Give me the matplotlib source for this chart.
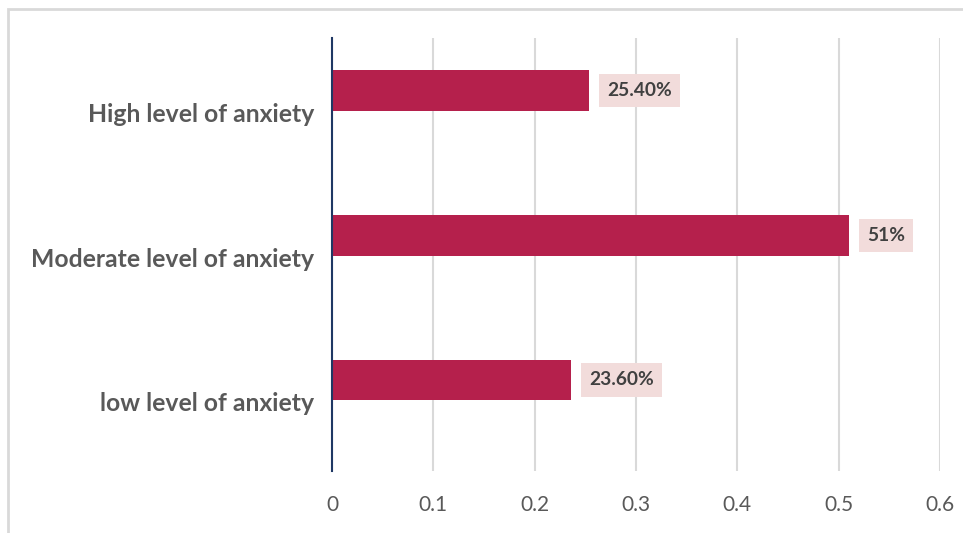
import matplotlib.pyplot as plt
import matplotlib.transforms as mtransforms
from matplotlib.patches import Rectangle

plt.rcParams['font.family'] = ['Lato', 'DejaVu Sans']

# Data (bottom to top)
categories = ['low level of anxiety', 'Moderate level of anxiety', 'High level of anxiety']
values = [0.236, 0.51, 0.254]
value_labels = ['23.60%', '51%', '25.40%']
xticks = [0, 0.1, 0.2, 0.3, 0.4, 0.5, 0.6]

fig = plt.figure(figsize=(9.63, 5.33), dpi=100)
ax = fig.add_axes([0.3448, 0.1163, 0.6313, 0.8124])

# chart border (Excel-style), runs off the right and bottom
fig.patches.append(Rectangle((8 / 963, -0.1), 1.2, 1 - 9 / 533 + 0.1,
                             transform=fig.transFigure, fill=False,
                             edgecolor='#D9D9D9', linewidth=2))

ypos = range(len(categories))
ax.barh(ypos, values, height=0.283, color='#B5204C', zorder=3)

for y, v, lab in zip(ypos, values, value_labels):
    ax.annotate(lab, (v, y), xytext=(13, 0), textcoords='offset points',
                va='center', ha='left', fontsize=13.8, fontweight='bold',
                color='#404040', zorder=4,
                bbox=dict(boxstyle='square,pad=0.42', facecolor='#F2DCDB', edgecolor='none'))

ax.set_xlim(0, 0.6)
ax.set_ylim(-0.629, 2.363)
ax.set_xticks(xticks)
ax.set_xticklabels([f'{t:g}' for t in xticks])
ax.set_yticks(list(ypos))
ax.set_yticklabels(categories, fontsize=17.8, fontweight='bold', color='#595959')
ax.tick_params(axis='x', labelsize=15, colors='#595959', length=0, pad=17)
ax.tick_params(axis='y', length=0, pad=13)

# category labels sit a little below the bar centres, as in the original
shift = mtransforms.ScaledTranslation(0, -0.22, fig.dpi_scale_trans)
for lbl in ax.get_yticklabels():
    lbl.set_transform(lbl.get_transform() + shift)

ax.xaxis.grid(True, color='#D9D9D9', linewidth=1.5, zorder=0)
ax.set_axisbelow(True)

for s in ['top', 'right', 'bottom']:
    ax.spines[s].set_visible(False)
ax.spines['left'].set_color('#1F3864')
ax.spines['left'].set_linewidth(1.5)
ax.spines['left'].set_zorder(5)

fig.savefig('out.png', dpi=100)
